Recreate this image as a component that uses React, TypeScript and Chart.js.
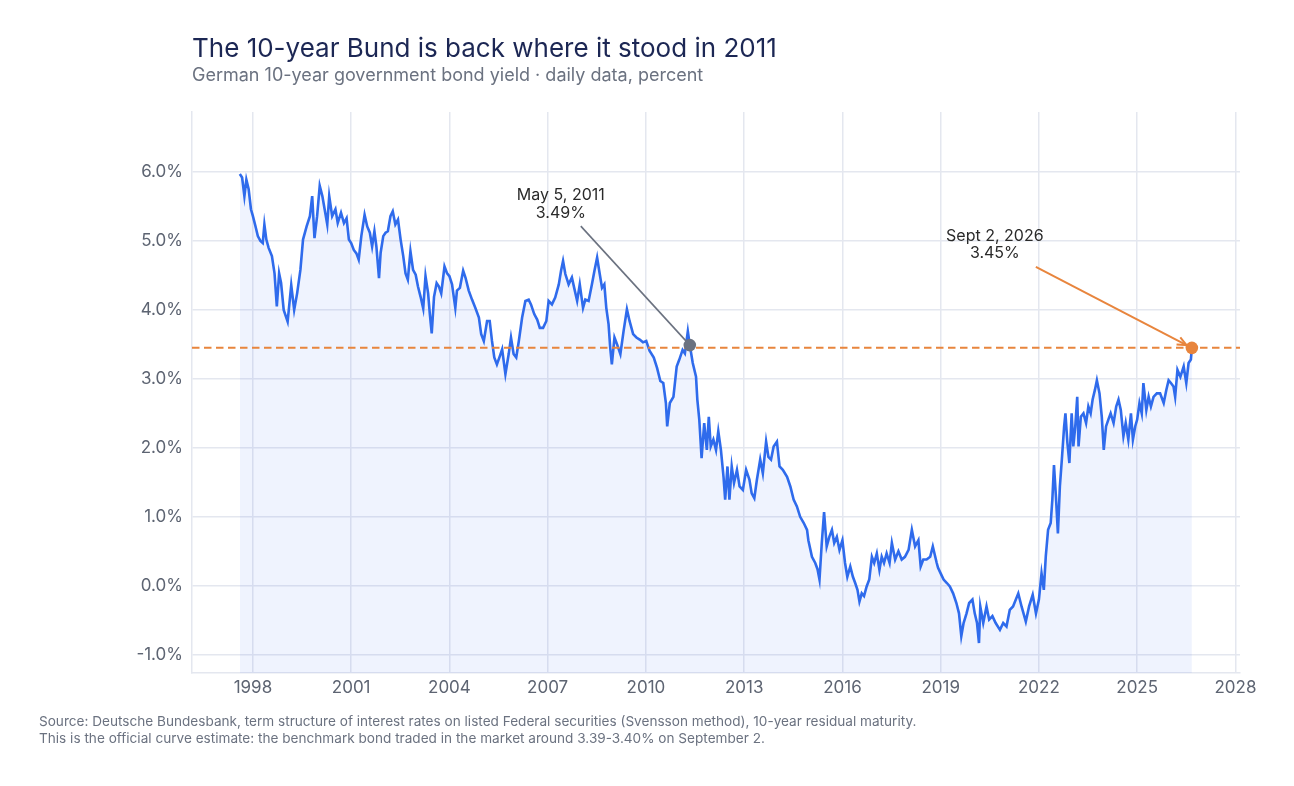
import React, { useEffect, useRef } from 'react';
import { Chart, registerables } from 'chart.js';

Chart.register(...registerables);

const yields1997to2003: [number, number][] = [
  [1997.60, 5.97], [1997.67, 5.92], [1997.74, 5.65], [1997.80, 5.89], [1997.87, 5.75], [1997.94, 5.46],
  [1998.00, 5.36], [1998.08, 5.21], [1998.15, 5.07], [1998.23, 5.00], [1998.30, 4.97], [1998.35, 5.24],
  [1998.41, 5.02], [1998.48, 4.90], [1998.58, 4.78], [1998.66, 4.53], [1998.73, 4.05], [1998.80, 4.53],
  [1998.86, 4.39], [1998.94, 4.00], [1999.06, 3.83], [1999.17, 4.36], [1999.26, 4.00], [1999.35, 4.24],
  [1999.45, 4.58], [1999.53, 5.02], [1999.64, 5.21], [1999.74, 5.36], [1999.81, 5.65], [1999.88, 5.04],
  [1999.96, 5.36], [2000.04, 5.80], [2000.12, 5.65], [2000.19, 5.46], [2000.27, 5.24], [2000.33, 5.65],
  [2000.42, 5.36], [2000.52, 5.46], [2000.59, 5.26], [2000.69, 5.41], [2000.78, 5.26], [2000.86, 5.33],
  [2000.93, 5.02], [2001.00, 4.97], [2001.08, 4.87], [2001.16, 4.82], [2001.23, 4.73], [2001.31, 5.07],
  [2001.41, 5.38], [2001.49, 5.21], [2001.57, 5.12], [2001.64, 4.92], [2001.71, 5.14], [2001.77, 4.92],
  [2001.85, 4.46], [2001.90, 4.83], [2001.98, 5.07], [2002.05, 5.12], [2002.12, 5.14], [2002.20, 5.36],
  [2002.27, 5.43], [2002.35, 5.24], [2002.43, 5.31], [2002.51, 5.02], [2002.59, 4.78], [2002.66, 4.53],
  [2002.73, 4.44], [2002.81, 4.85], [2002.89, 4.58], [2002.97, 4.51], [2003.04, 4.34], [2003.12, 4.19],
  [2003.20, 4.02], [2003.27, 4.49], [2003.35, 4.24], [2003.40, 3.95], [2003.46, 3.66], [2003.53, 4.19],
  [2003.61, 4.39], [2003.68, 4.34], [2003.75, 4.24], [2003.85, 4.63], [2003.93, 4.53],
];

const yields2004to2010: [number, number][] = [
  [2004.00, 4.49], [2004.08, 4.37], [2004.18, 4.03], [2004.23, 4.28], [2004.32, 4.32], [2004.42, 4.57],
  [2004.49, 4.47], [2004.59, 4.28], [2004.69, 4.15], [2004.79, 4.03], [2004.90, 3.89], [2004.97, 3.65],
  [2005.05, 3.55], [2005.15, 3.84], [2005.23, 3.84], [2005.30, 3.55], [2005.37, 3.31], [2005.45, 3.21],
  [2005.54, 3.33], [2005.61, 3.43], [2005.71, 3.07], [2005.81, 3.36], [2005.88, 3.60], [2005.96, 3.36],
  [2006.04, 3.31], [2006.12, 3.55], [2006.22, 3.89], [2006.32, 4.13], [2006.42, 4.15], [2006.49, 4.08],
  [2006.59, 3.94], [2006.68, 3.86], [2006.76, 3.74], [2006.86, 3.74], [2006.96, 3.84], [2007.03, 4.13],
  [2007.13, 4.08], [2007.23, 4.18], [2007.34, 4.37], [2007.41, 4.57], [2007.47, 4.71], [2007.54, 4.52],
  [2007.64, 4.37], [2007.74, 4.47], [2007.81, 4.32], [2007.90, 4.13], [2007.98, 4.37], [2008.08, 4.03],
  [2008.15, 4.15], [2008.25, 4.13], [2008.35, 4.37], [2008.43, 4.57], [2008.51, 4.76], [2008.59, 4.52],
  [2008.66, 4.32], [2008.73, 4.37], [2008.79, 4.03], [2008.86, 3.79], [2008.91, 3.45], [2008.96, 3.21],
  [2009.04, 3.60], [2009.12, 3.50], [2009.22, 3.36], [2009.32, 3.70], [2009.42, 4.01], [2009.50, 3.84],
  [2009.61, 3.65], [2009.71, 3.60], [2009.81, 3.57], [2009.91, 3.53], [2010.01, 3.55], [2010.11, 3.41],
  [2010.24, 3.31], [2010.34, 3.16], [2010.44, 2.97],
];

const yields2010to2014: [number, number][] = [
  [2010.53, 2.94], [2010.61, 2.65], [2010.65, 2.31], [2010.73, 2.65], [2010.84, 2.74], [2010.94, 3.18],
  [2011.02, 3.28], [2011.12, 3.42], [2011.19, 3.37], [2011.28, 3.69], [2011.34, 3.49], [2011.43, 3.23],
  [2011.53, 3.03], [2011.57, 2.70], [2011.63, 2.41], [2011.70, 1.85], [2011.78, 2.36], [2011.86, 1.97],
  [2011.92, 2.45], [2011.98, 2.02], [2012.06, 2.12], [2012.14, 1.97], [2012.21, 2.24], [2012.29, 1.97],
  [2012.37, 1.58], [2012.42, 1.25], [2012.49, 1.73], [2012.55, 1.25], [2012.62, 1.73], [2012.69, 1.49],
  [2012.78, 1.68], [2012.86, 1.44], [2012.96, 1.39], [2013.06, 1.68], [2013.16, 1.54], [2013.23, 1.34],
  [2013.31, 1.27], [2013.39, 1.54], [2013.49, 1.83], [2013.57, 1.63], [2013.67, 2.09], [2013.74, 1.87],
  [2013.82, 1.83], [2013.90, 2.02], [2014.00, 2.09], [2014.08, 1.73], [2014.18, 1.68], [2014.31, 1.58],
  [2014.41, 1.44], [2014.51, 1.25], [2014.61, 1.15], [2014.71, 1.00], [2014.82, 0.91], [2014.92, 0.81],
];

const yields2015to2018: [number, number][] = [
  [2014.96, 0.66], [2015.07, 0.42], [2015.17, 0.33], [2015.24, 0.24], [2015.30, 0.09], [2015.37, 0.62],
  [2015.44, 1.07], [2015.52, 0.57], [2015.60, 0.71], [2015.68, 0.81], [2015.75, 0.62], [2015.83, 0.71],
  [2015.91, 0.52], [2016.00, 0.66], [2016.08, 0.33], [2016.15, 0.13], [2016.24, 0.28], [2016.32, 0.13],
  [2016.39, 0.04], [2016.46, -0.06], [2016.52, -0.23], [2016.59, -0.11], [2016.66, -0.15], [2016.74, -0.01],
  [2016.82, 0.09], [2016.90, 0.42], [2016.97, 0.33], [2017.05, 0.47], [2017.13, 0.23], [2017.20, 0.42],
  [2017.27, 0.33], [2017.35, 0.47], [2017.44, 0.33], [2017.51, 0.62], [2017.61, 0.38], [2017.71, 0.50],
  [2017.81, 0.38], [2017.91, 0.42], [2018.02, 0.52], [2018.12, 0.81], [2018.22, 0.57], [2018.32, 0.66],
  [2018.39, 0.28], [2018.47, 0.38], [2018.57, 0.38], [2018.68, 0.42], [2018.76, 0.57], [2018.88, 0.33],
];

const yields2019to2026: [number, number][] = [
  [2018.92, 0.26], [2019.00, 0.18], [2019.09, 0.09], [2019.19, 0.04], [2019.28, -0.01], [2019.38, -0.11],
  [2019.48, -0.25], [2019.56, -0.40], [2019.63, -0.73], [2019.70, -0.54], [2019.79, -0.40], [2019.87, -0.25],
  [2019.97, -0.20], [2020.04, -0.40], [2020.11, -0.54], [2020.17, -0.83], [2020.21, -0.30], [2020.30, -0.54],
  [2020.40, -0.30], [2020.48, -0.49], [2020.58, -0.44], [2020.68, -0.54], [2020.81, -0.64], [2020.91, -0.54],
  [2021.01, -0.59], [2021.11, -0.35], [2021.21, -0.30], [2021.37, -0.11], [2021.47, -0.30], [2021.60, -0.52],
  [2021.70, -0.30], [2021.81, -0.13], [2021.91, -0.40], [2022.00, -0.20], [2022.08, 0.18], [2022.15, -0.06],
  [2022.21, 0.43], [2022.28, 0.81], [2022.36, 0.91], [2022.41, 1.25], [2022.46, 1.75], [2022.52, 1.29],
  [2022.58, 0.76], [2022.64, 1.44], [2022.70, 1.83], [2022.77, 2.31], [2022.81, 2.50], [2022.87, 2.07],
  [2022.93, 1.78], [2023.00, 2.50], [2023.05, 2.02], [2023.11, 2.31], [2023.17, 2.74], [2023.21, 2.02],
  [2023.28, 2.45], [2023.36, 2.50], [2023.44, 2.36], [2023.51, 2.60], [2023.58, 2.50], [2023.64, 2.70],
  [2023.71, 2.84], [2023.77, 2.98], [2023.85, 2.79], [2023.92, 2.45], [2023.98, 1.97], [2024.05, 2.31],
  [2024.12, 2.41], [2024.19, 2.50], [2024.28, 2.36], [2024.36, 2.60], [2024.43, 2.70], [2024.50, 2.55],
  [2024.58, 2.17], [2024.65, 2.36], [2024.73, 2.12], [2024.81, 2.50], [2024.87, 2.12], [2024.94, 2.31],
  [2025.00, 2.41], [2025.07, 2.65], [2025.14, 2.50], [2025.19, 2.94], [2025.28, 2.55], [2025.35, 2.74],
  [2025.42, 2.60], [2025.50, 2.74], [2025.60, 2.79], [2025.70, 2.79], [2025.81, 2.65], [2025.89, 2.84],
  [2025.96, 2.98], [2026.03, 2.94], [2026.11, 2.89], [2026.16, 2.74], [2026.23, 3.13], [2026.32, 3.03],
  [2026.42, 3.18], [2026.50, 2.94], [2026.57, 3.23], [2026.64, 3.28], [2026.67, 3.45],
];

const yearTicks = [1998, 2001, 2004, 2007, 2010, 2013, 2016, 2019, 2022, 2025, 2028];
const yieldTicks = [-1, 0, 1, 2, 3, 4, 5, 6];

const referenceYield = 3.45;
const calloutDates = [2011.34, 2026.67];
const calloutYields = [3.49, 3.45];
const calloutTitles = ['May 5, 2011', 'Sept 2, 2026'];

const FONT = 'Inter, "Liberation Sans", Arial, sans-serif';
const BLUE = '#2f6bec';
const ORANGE = '#e8853d';
const GREY = '#6b7280';
const GRID = '#e4e7ef';
const TICK = '#5d6472';

// pixel offsets of each callout's label and leader relative to its point
const calloutStyles = [
  { color: GREY, width: 1.6, arrow: false, lineDx: -109, lineDy: -119, textDx: -129, textDy: -145 },
  { color: ORANGE, width: 2, arrow: true, lineDx: -156, lineDy: -81, textDx: -197, textDy: -107 },
];

const calloutPlugin = {
  id: 'callouts',
  afterDatasetsDraw(chart: any) {
    const { ctx, chartArea, scales } = chart;
    const xs = scales.x;
    const ys = scales.y;
    ctx.save();

    // horizontal reference at today's level
    const refY = ys.getPixelForValue(referenceYield);
    ctx.strokeStyle = ORANGE;
    ctx.lineWidth = 2;
    ctx.setLineDash([7.5, 4.5]);
    ctx.beginPath();
    ctx.moveTo(chartArea.left, refY);
    ctx.lineTo(chartArea.right, refY);
    ctx.stroke();
    ctx.setLineDash([]);

    calloutDates.forEach((date, i) => {
      const s = calloutStyles[i];
      const px = xs.getPixelForValue(date);
      const py = ys.getPixelForValue(calloutYields[i]);
      const sx = px + s.lineDx;
      const sy = py + s.lineDy;
      const ang = Math.atan2(py - sy, px - sx);
      const ex = s.arrow ? px - Math.cos(ang) * 6 : px;
      const ey = s.arrow ? py - Math.sin(ang) * 6 : py;

      ctx.strokeStyle = s.color;
      ctx.lineWidth = s.width;
      ctx.beginPath();
      ctx.moveTo(sx, sy);
      ctx.lineTo(ex, ey);
      ctx.stroke();

      if (s.arrow) {
        ctx.beginPath();
        ctx.moveTo(ex - Math.cos(ang - 0.42) * 10, ey - Math.sin(ang - 0.42) * 10);
        ctx.lineTo(ex, ey);
        ctx.lineTo(ex - Math.cos(ang + 0.42) * 10, ey - Math.sin(ang + 0.42) * 10);
        ctx.stroke();
      }

      ctx.fillStyle = s.color;
      ctx.beginPath();
      ctx.arc(px, py, 6.3, 0, Math.PI * 2);
      ctx.fill();

      ctx.fillStyle = '#2a2a2a';
      ctx.font = `16px ${FONT}`;
      ctx.textAlign = 'center';
      ctx.textBaseline = 'alphabetic';
      ctx.fillText(calloutTitles[i], px + s.textDx, py + s.textDy);
      ctx.fillText(`${calloutYields[i].toFixed(2)}%`, px + s.textDx, py + s.textDy + 17.5);
    });

    ctx.restore();
  },
};

const App = () => {
  const canvasRef = useRef<HTMLCanvasElement>(null);

  useEffect(() => {
    if (!canvasRef.current) return;

    const series = [
      ...yields1997to2003,
      ...yields2004to2010,
      ...yields2010to2014,
      ...yields2015to2018,
      ...yields2019to2026,
    ].map(([x, y]) => ({ x, y }));

    Chart.defaults.font.family = FONT;

    const chart = new Chart(canvasRef.current, {
      type: 'line',
      data: {
        datasets: [
          {
            label: '10-year yield',
            data: series,
            borderColor: BLUE,
            borderWidth: 2.6,
            backgroundColor: 'rgba(47,107,236,0.08)',
            fill: 'start',
            pointRadius: 0,
            tension: 0,
          },
        ],
      },
      options: {
        animation: false,
        responsive: true,
        maintainAspectRatio: false,
        layout: { padding: { left: 0, right: 54, top: 112, bottom: 73 } },
        plugins: {
          legend: { display: false },
          tooltip: { enabled: false },
        },
        scales: {
          x: {
            type: 'linear',
            min: 1996.14,
            max: 2028.14,
            afterBuildTicks: (scale: any) => {
              scale.ticks = yearTicks.map(value => ({ value }));
            },
            afterFit: (scale: any) => {
              scale.height = 40;
            },
            grid: { color: GRID, lineWidth: 1.5, drawTicks: false },
            border: { display: true, color: GRID, width: 1.5 },
            ticks: {
              color: TICK,
              font: { size: 17 },
              padding: 5,
              maxRotation: 0,
              autoSkip: false,
              callback: (v: any) => String(v),
            },
          },
          y: {
            min: -1.265,
            max: 6.87,
            afterBuildTicks: (scale: any) => {
              scale.ticks = yieldTicks.map(value => ({ value }));
            },
            afterFit: (scale: any) => {
              scale.width = 192;
            },
            grid: { color: GRID, lineWidth: 1.5, drawTicks: false },
            border: { display: true, color: GRID, width: 1.5 },
            ticks: {
              color: TICK,
              font: { size: 17 },
              padding: 9,
              callback: (v: any) => `${Number(v).toFixed(1)}%`,
            },
          },
        },
      },
      plugins: [calloutPlugin],
    });

    return () => {
      chart.destroy();
    };
  }, []);

  return (
    <div style={{ position: 'fixed', left: 0, top: 0, width: 1294, height: 786, background: '#fff', fontFamily: FONT }}>
      <div style={{ position: 'absolute', left: 0, top: 0, width: 1294, height: 786 }}>
        <canvas ref={canvasRef} />
      </div>
      <div style={{ position: 'absolute', left: 192, top: 35, fontSize: 26, lineHeight: '26px', color: '#1c2754', whiteSpace: 'nowrap' }}>
        The 10-year Bund is back where it stood in 2011
      </div>
      <div style={{ position: 'absolute', left: 192, top: 66, fontSize: 18, lineHeight: '18px', color: GREY, whiteSpace: 'nowrap' }}>
        German 10-year government bond yield · daily data, percent
      </div>
      <div style={{ position: 'absolute', left: 39, top: 713, fontSize: 13.6, lineHeight: '17px', color: GREY, whiteSpace: 'nowrap' }}>
        Source: Deutsche Bundesbank, term structure of interest rates on listed Federal securities (Svensson method), 10-year residual maturity.
        <br />
        This is the official curve estimate: the benchmark bond traded in the market around 3.39-3.40% on September 2.
      </div>
    </div>
  );
};

export default App;
